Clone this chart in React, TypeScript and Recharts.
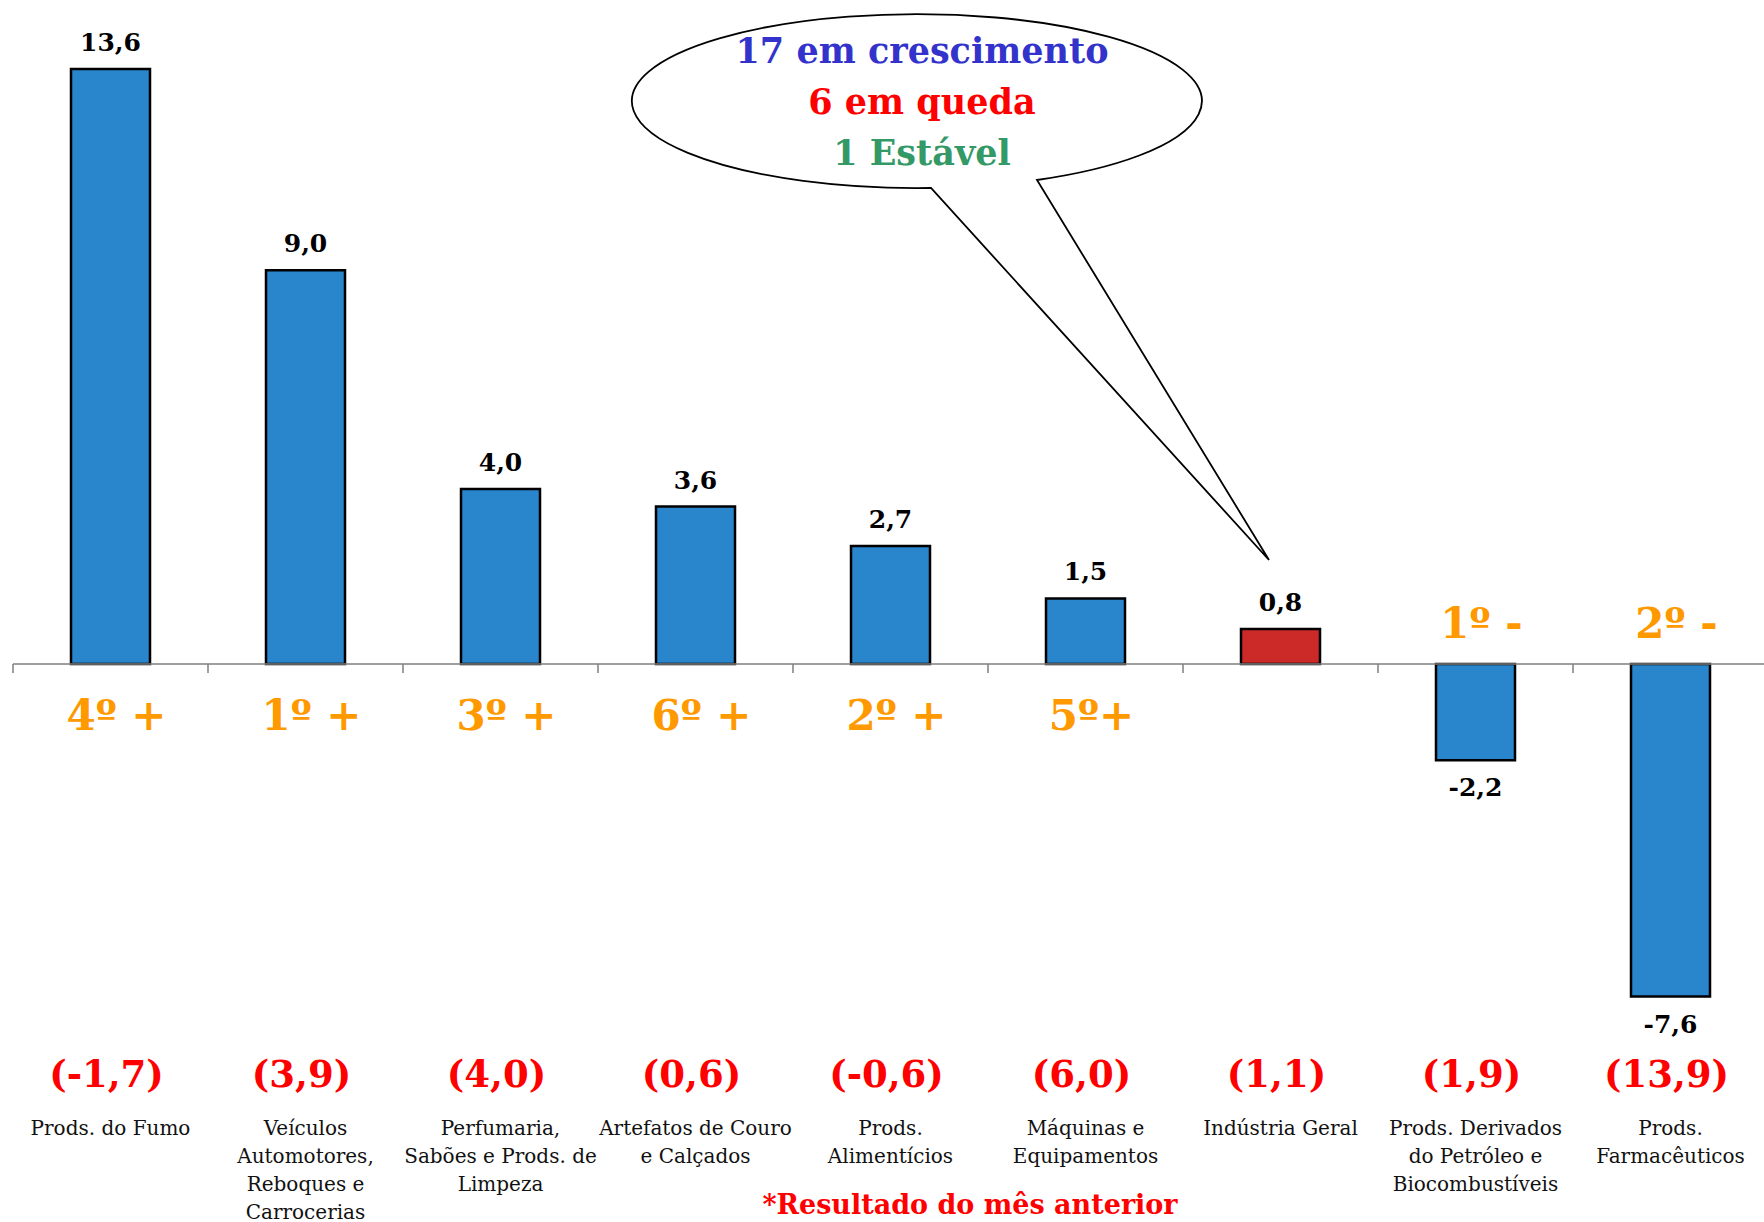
import React from "react";
import { BarChart, Bar, XAxis, YAxis, ReferenceLine, LabelList, Cell } from "recharts";

const categories = [
  ["Prods. do Fumo"],
  ["Veículos", "Automotores,", "Reboques e", "Carrocerias"],
  ["Perfumaria,", "Sabões e Prods. de", "Limpeza"],
  ["Artefatos de Couro", "e Calçados"],
  ["Prods.", "Alimentícios"],
  ["Máquinas e", "Equipamentos"],
  ["Indústria Geral"],
  ["Prods. Derivados", "do Petróleo e", "Biocombustíveis"],
  ["Prods.", "Farmacêuticos"],
];
const values = [13.6, 9.0, 4.0, 3.6, 2.7, 1.5, 0.8, -2.2, -7.6];
const previous = ["(-1,7)", "(3,9)", "(4,0)", "(0,6)", "(-0,6)", "(6,0)", "(1,1)", "(1,9)", "(13,9)"];
const ranks = ["4º +", "1º +", "3º +", "6º +", "2º +", "5º+", "", "1º -", "2º -"];

const data = values.map((v, i) => ({ name: String(i), value: v }));

const W = 1764, H = 1222;
const TOP = 6, BOTTOM = 33;
const YMAX = 15.04, YMIN = -12;
const SERIF = "'DejaVu Serif', 'Liberation Serif', serif";
const plotH = H - TOP - BOTTOM;
const zeroY = TOP + (YMAX / (YMAX - YMIN)) * plotH;
const BAND = (W - 13 + 4) / 9;

const Tick = (props: any) => {
  const { x, payload } = props;
  const index = Number(payload?.value ?? props.index);
  const lines = categories[index] || [];
  const neg = values[index] < 0;
  return (
    <g>
      <line x1={x - BAND / 2} x2={x - BAND / 2} y1={zeroY} y2={zeroY + 9} stroke="#7f7f7f" strokeWidth={1.5} />
      {ranks[index] && (
        <text x={x + 6} y={neg ? zeroY - 26 : zeroY + 66} textAnchor="middle" fill="#FF9900"
          fontFamily={SERIF} fontWeight="bold" fontSize={42}>{ranks[index]}</text>
      )}
      <text x={x - 4} y={1087} textAnchor="middle" fill="#FF0000" fontFamily={SERIF} fontWeight="bold" fontSize={37}>
        {previous[index]}
      </text>
      {lines.map((l, k) => (
        <text key={k} x={x} y={1135 + k * 28} textAnchor="middle" fill="#111" fontFamily={SERIF} fontSize={20}>{l}</text>
      ))}
    </g>
  );
};

const ValueLabel = (props: any) => {
  const { x, y, width, height, value } = props;
  const neg = value < 0;
  const txt = value.toFixed(1).replace(".", ",");
  const cx = x + width / 2;
  const top = Math.min(y, y + height);
  const bottom = Math.max(y, y + height);
  const ty = neg ? bottom + 36 : top - 18;
  return (
    <text x={cx} y={ty} textAnchor="middle" fill="#000" fontFamily={SERIF} fontWeight="bold" fontSize={25}>{txt}</text>
  );
};

export default function App() {
  return (
    <div style={{ position: "absolute", left: 0, top: 0, width: W, height: H, background: "#fff" }}>
      <BarChart width={W} height={H} data={data} margin={{ top: TOP, right: -4, bottom: BOTTOM - 1, left: 13 }} barCategoryGap={58}>
        <YAxis hide domain={[YMIN, YMAX]} />
        <XAxis dataKey="name" axisLine={false} tickLine={false} tick={<Tick />} interval={0} height={1} />
        <ReferenceLine y={0} stroke="#7f7f7f" strokeWidth={1.5} />
        <Bar dataKey="value" isAnimationActive={false} stroke="#000" strokeWidth={2.5} barSize={79}>
          {data.map((d, i) => (
            <Cell key={i} fill={i === 6 ? "#CC2929" : "#2986CC"} />
          ))}
          <LabelList dataKey="value" content={<ValueLabel />} />
        </Bar>
      </BarChart>
      <svg width={W} height={H} style={{ position: "absolute", left: 0, top: 0, pointerEvents: "none" }}>
        <path d="M 931 188 A 285 87 0 1 1 1037 180 L 1269 560 Z" fill="#fff" stroke="#000" strokeWidth={1.8} />
        <text x={922} y={63} textAnchor="middle" fill="#3333CC" fontFamily={SERIF} fontWeight="bold" fontSize={35}>17 em crescimento</text>
        <text x={922} y={114} textAnchor="middle" fill="#FF0000" fontFamily={SERIF} fontWeight="bold" fontSize={35}>6 em queda</text>
        <text x={922} y={165} textAnchor="middle" fill="#339966" fontFamily={SERIF} fontWeight="bold" fontSize={35}>1 Estável</text>
        <text x={970} y={1214} textAnchor="middle" fill="#FF0000" fontFamily={SERIF} fontWeight="bold" fontSize={27}>*Resultado do mês anterior</text>
      </svg>
    </div>
  );
}
